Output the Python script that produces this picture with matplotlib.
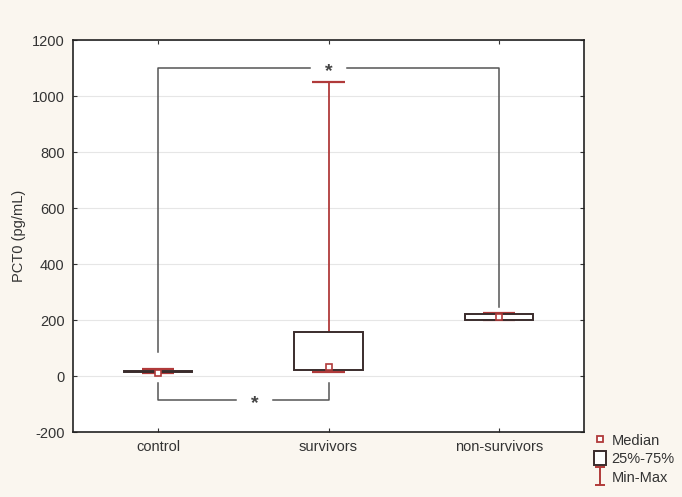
import matplotlib
matplotlib.use('Agg')
import matplotlib.pyplot as plt
from matplotlib.lines import Line2D
from matplotlib.patches import Rectangle
from matplotlib.path import Path

# summary statistics per group
groups = ['control', 'survivors', 'non-survivors']
mins = [10, 14, 200]
q1 = [13, 21, 201]
medians = [11, 33, 212]
q3 = [18, 157, 222]
maxs = [25, 1050, 225]

# significance brackets: (left group, right group, bar level, left leg end, right leg end, star x)
brackets = [
    (1, 3, 1100, 85, 245, 2.0),
    (1, 2, -85, -25, -25, 1.565),
]

BG = '#faf6ef'
RED = '#b03a3a'
BOX = '#3a2c2c'
TXT = '#333333'

plt.rcParams.update({'font.family': ['Liberation Sans', 'DejaVu Sans'], 'font.size': 10.5,
                     'axes.unicode_minus': False,
                     'text.color': TXT, 'axes.labelcolor': TXT,
                     'xtick.color': TXT, 'ytick.color': TXT})

fig = plt.figure(figsize=(6.82, 4.97), dpi=100, facecolor=BG)
ax = fig.add_axes([73 / 682, 1 - 432 / 497, 511 / 682, 392 / 497])
ax.set_facecolor('white')

xs = [1, 2, 3]
bw = 0.4
cw = 0.19
for x, lo, a, m, b, hi in zip(xs, mins, q1, medians, q3, maxs):
    ax.vlines(x, b, hi, color=RED, lw=1.3, zorder=2)
    ax.vlines(x, lo, a, color=RED, lw=1.3, zorder=2)
    ax.hlines([lo, hi], x - cw / 2, x + cw / 2, color=RED, lw=1.6, zorder=2)
    ax.add_patch(Rectangle((x - bw / 2, a), bw, b - a, facecolor='white',
                           edgecolor=BOX, lw=1.4, zorder=3))
    ax.plot(x, m, 's', ms=4.5, mfc='white', mec=RED, mew=1.2, zorder=4)

gap = 0.11
for xa, xb, lvl, la, lb, sx in brackets:
    ax.plot([sx - gap, xa, xa], [lvl, lvl, la], color='#555555', lw=1.1, zorder=1)
    ax.plot([sx + gap, xb, xb], [lvl, lvl, lb], color='#555555', lw=1.1, zorder=1)
    ax.text(sx, lvl - 14, '*', ha='center', va='center', fontsize=14,
            fontweight='bold', color='#444444', zorder=5)

ax.set_xlim(0.5, 3.5)
ax.set_ylim(-200, 1200)
ax.set_yticks(range(-200, 1201, 200))
ax.set_xticks(xs)
ax.set_xticklabels(groups)
ax.set_ylabel('PCT0 (pg/mL)')
ax.yaxis.grid(True, color='#e6e6e6', lw=0.8)
ax.set_axisbelow(True)
ax.tick_params(direction='in', length=3, top=True, right=True, pad=6)
for s in ax.spines.values():
    s.set_color('#222222')
    s.set_linewidth(1.2)

ibeam = Path([(-0.6, -1), (0.6, -1), (0, -1), (0, 1), (-0.6, 1), (0.6, 1)],
             [Path.MOVETO, Path.LINETO, Path.MOVETO, Path.LINETO, Path.MOVETO, Path.LINETO])
handles = [
    Line2D([], [], ls='none', marker='s', ms=5, mfc='white', mec=RED, mew=1.3),
    Rectangle((0, 0), 1, 1, facecolor='white', edgecolor=BOX, lw=1.4),
    Line2D([], [], ls='none', marker=ibeam, ms=13, color=RED, mew=1.4),
]
fig.legend(handles, ['Median', '25%-75%', 'Min-Max'], loc='upper left',
           bbox_to_anchor=(588 / 682, 1 - 427 / 497), frameon=False,
           handlelength=0.8, handleheight=1.1, handletextpad=0.4, labelspacing=0.25,
           borderaxespad=0)

fig.savefig('out.png', dpi=100, facecolor=BG)
